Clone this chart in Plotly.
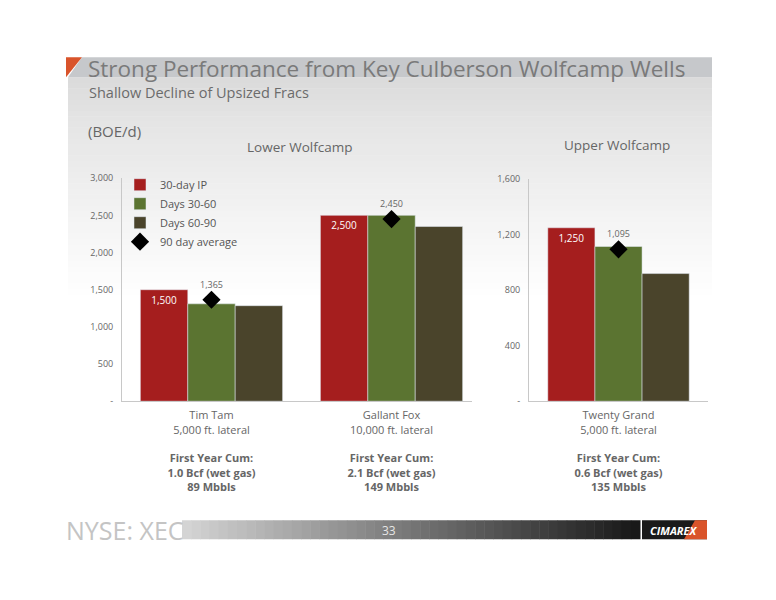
import plotly.graph_objects as go

# the page puts the plot 8px in from the top-left, so the figure is a bit smaller
OFF = 8
W, H = 776 - 2 * OFF, 600 - 2 * OFF
# the photographed page comes out slightly squashed vertically; undo that
VS, VB = 0.9776, 7.0

# data
lower_wells = ["Tim Tam", "Gallant Fox"]
lower_laterals = ["5,000 ft. lateral", "10,000 ft. lateral"]
lower_gas = ["1.0 Bcf (wet gas)", "2.1 Bcf (wet gas)"]
lower_oil = ["89 Mbbls", "149 Mbbls"]
lower_ip30 = [1500, 2500]
lower_d30_60 = [1310, 2500]
lower_d60_90 = [1285, 2350]
lower_avg90 = [1365, 2450]

upper_wells = ["Twenty Grand"]
upper_laterals = ["5,000 ft. lateral"]
upper_gas = ["0.6 Bcf (wet gas)"]
upper_oil = ["135 Mbbls"]
upper_ip30 = [1250]
upper_d30_60 = [1115]
upper_d60_90 = [920]
upper_avg90 = [1095]

lower_ticks = [0, 500, 1000, 1500, 2000, 2500, 3000]
lower_ticktext = ["-", "500", "1,000", "1,500", "2,000", "2,500", "3,000"]
upper_ticks = [0, 400, 800, 1200, 1600]
upper_ticktext = ["-", "400", "800", "1,200", "1,600"]

RED = "#A51E1E"
GREEN = "#5B7431"
DARK = "#4A442B"
GREY_TXT = "#666666"
FONT = "Open Sans"


def px(x):
    return (x - OFF) / W


def py(y):
    page_y = (y - VB) / VS
    return 1 - (page_y - OFF) / H


def cat_labels(wells, laterals, gas, oil):
    return [
        f"{w}<br>{l}<br><br><b>First Year Cum:</b><br><b>{g}</b><br><b>{o}</b>"
        for w, l, g, o in zip(wells, laterals, gas, oil)
    ]


fig = go.Figure()


def add_group(wells, ip30, d3060, d6090, avg, xa, ya, legend):
    fig.add_trace(go.Bar(x=wells, y=ip30, name="30-day IP", marker_color=RED,
                         xaxis=xa, yaxis=ya, showlegend=legend, legendgroup="a",
                         texttemplate="%{y:,}", textposition="inside",
                         insidetextanchor="end", constraintext="none",
                         textfont=dict(color="white", size=10)))
    fig.add_trace(go.Bar(x=wells, y=d3060, name="Days 30-60", marker_color=GREEN,
                         xaxis=xa, yaxis=ya, showlegend=legend, legendgroup="b"))
    fig.add_trace(go.Bar(x=wells, y=d6090, name="Days 60-90", marker_color=DARK,
                         xaxis=xa, yaxis=ya, showlegend=legend, legendgroup="c"))
    fig.add_trace(go.Scatter(x=wells, y=avg, name="90 day average", mode="markers+text",
                             marker=dict(symbol="diamond", size=14, color="black"),
                             texttemplate="%{y:,}", textposition="top center",
                             textfont=dict(color=GREY_TXT, size=9),
                             xaxis=xa, yaxis=ya, showlegend=legend, legendgroup="d"))


add_group(lower_wells, lower_ip30, lower_d30_60, lower_d60_90, lower_avg90, "x", "y", True)
add_group(upper_wells, upper_ip30, upper_d30_60, upper_d60_90, upper_avg90, "x2", "y2", False)

axis_common = dict(showgrid=False, zeroline=False, showline=True, linecolor="#C8C8C8",
                   linewidth=1, ticks="")

shapes = []
# grey gradient panel behind the header
steps = 40
top, bot = 77, 300
for i in range(steps):
    y0 = top + (bot - top) * i / steps
    y1 = top + (bot - top) * (i + 1) / steps + 0.5
    v = int(219 + (255 - 219) * (i / (steps - 1)) ** 0.8)
    shapes.append(dict(type="rect", xref="paper", yref="paper", x0=px(68), x1=px(712),
                       y0=py(y1), y1=py(y0), fillcolor=f"rgb({v},{v},{v})",
                       line_width=0, layer="below"))
# title band and orange corner
shapes.append(dict(type="path", xref="paper", yref="paper", layer="below", line_width=0,
                   fillcolor="#C6C8CB",
                   path=f"M {px(82)},{py(57)} L {px(712)},{py(57)} L {px(712)},{py(77)} L {px(68)},{py(77)} Z"))
shapes.append(dict(type="path", xref="paper", yref="paper", layer="below", line_width=0,
                   fillcolor="#D9542B",
                   path=f"M {px(66)},{py(57)} L {px(82)},{py(57)} L {px(66)},{py(77)} Z"))
# footer gradient bar
fsteps = 50
fx0, fx1 = 182, 640
for i in range(fsteps):
    x0 = fx0 + (fx1 - fx0) * i / fsteps
    x1 = fx0 + (fx1 - fx0) * (i + 1) / fsteps + 0.5
    v = int(212 - (212 - 25) * i / (fsteps - 1))
    shapes.append(dict(type="rect", xref="paper", yref="paper", x0=px(x0), x1=px(x1),
                       y0=py(539), y1=py(520), fillcolor=f"rgb({v},{v},{v})",
                       line_width=0, layer="below"))
shapes.append(dict(type="rect", xref="paper", yref="paper", x0=px(642), x1=px(707),
                   y0=py(539), y1=py(520), fillcolor="#1A1A1A", line_width=0, layer="below"))
shapes.append(dict(type="path", xref="paper", yref="paper", layer="below", line_width=0,
                   fillcolor="#D9542B",
                   path=f"M {px(695)},{py(520)} L {px(707)},{py(520)} L {px(707)},{py(539)} L {px(684)},{py(539)} Z"))

annotations = [
    dict(text="Strong Performance from Key Culberson Wolfcamp Wells", x=px(86), y=py(68),
         font=dict(size=22.5, color="#7A7A7A", family=FONT)),
    dict(text="Shallow Decline of Upsized Fracs", x=px(87), y=py(92),
         font=dict(size=14.5, color="#6B6B6B", family=FONT)),
    dict(text="(BOE/d)", x=px(86), y=py(131),
         font=dict(size=15, color="#666666", family=FONT)),
    dict(text="Lower Wolfcamp", x=px(300), y=py(147), xanchor="center",
         font=dict(size=13.5, color="#666666", family=FONT)),
    dict(text="Upper Wolfcamp", x=px(617), y=py(145), xanchor="center",
         font=dict(size=13.5, color="#666666", family=FONT)),
    dict(text="NYSE: XEC", x=px(64), y=py(530),
         font=dict(size=25, color="#C4C4C4", family=FONT)),
    dict(text="33", x=px(389), y=py(530), xanchor="center",
         font=dict(size=12, color="#E6E6E6", family=FONT)),
    dict(text="<b><i>CIMAREX</i></b>", x=px(673), y=py(530), xanchor="center",
         font=dict(size=11, color="white", family=FONT)),
]
for a in annotations:
    a.update(xref="paper", yref="paper", showarrow=False, yanchor="middle")
    a.setdefault("xanchor", "left")

fig.update_layout(
    width=W, height=H,
    margin=dict(l=0, r=0, t=0, b=0),
    paper_bgcolor="white", plot_bgcolor="rgba(0,0,0,0)",
    barmode="group", bargap=0.21, bargroupgap=0,
    font=dict(family=FONT, color=GREY_TXT),
    xaxis=dict(domain=[px(122), px(472)], range=[-0.497, 1.447],
               tickvals=lower_wells,
               ticktext=cat_labels(lower_wells, lower_laterals, lower_gas, lower_oil),
               tickfont=dict(size=11, color="#666666"), ticklabelstandoff=4,
               anchor="y", **axis_common),
    yaxis=dict(domain=[py(401), py(178)], range=[0, 3000], tickvals=lower_ticks,
               ticktext=lower_ticktext, tickfont=dict(size=9, color=GREY_TXT),
               ticklabelstandoff=6, anchor="x", **axis_common),
    xaxis2=dict(domain=[px(529), px(708)], range=[-0.5, 0.5],
                tickvals=upper_wells,
                ticktext=cat_labels(upper_wells, upper_laterals, upper_gas, upper_oil),
                tickfont=dict(size=11, color="#666666"), ticklabelstandoff=4,
                anchor="y2", **axis_common),
    yaxis2=dict(domain=[py(401), py(179)], range=[0, 1600], tickvals=upper_ticks,
                ticktext=upper_ticktext, tickfont=dict(size=9, color=GREY_TXT),
                ticklabelstandoff=6, anchor="x2", **axis_common),
    legend=dict(x=px(120), y=py(170), xanchor="left", yanchor="top",
                bgcolor="rgba(0,0,0,0)", font=dict(size=11, color="#555555"),
                itemwidth=30, tracegroupgap=0),
    shapes=shapes,
    annotations=annotations,
)

fig.write_html("out.html")
